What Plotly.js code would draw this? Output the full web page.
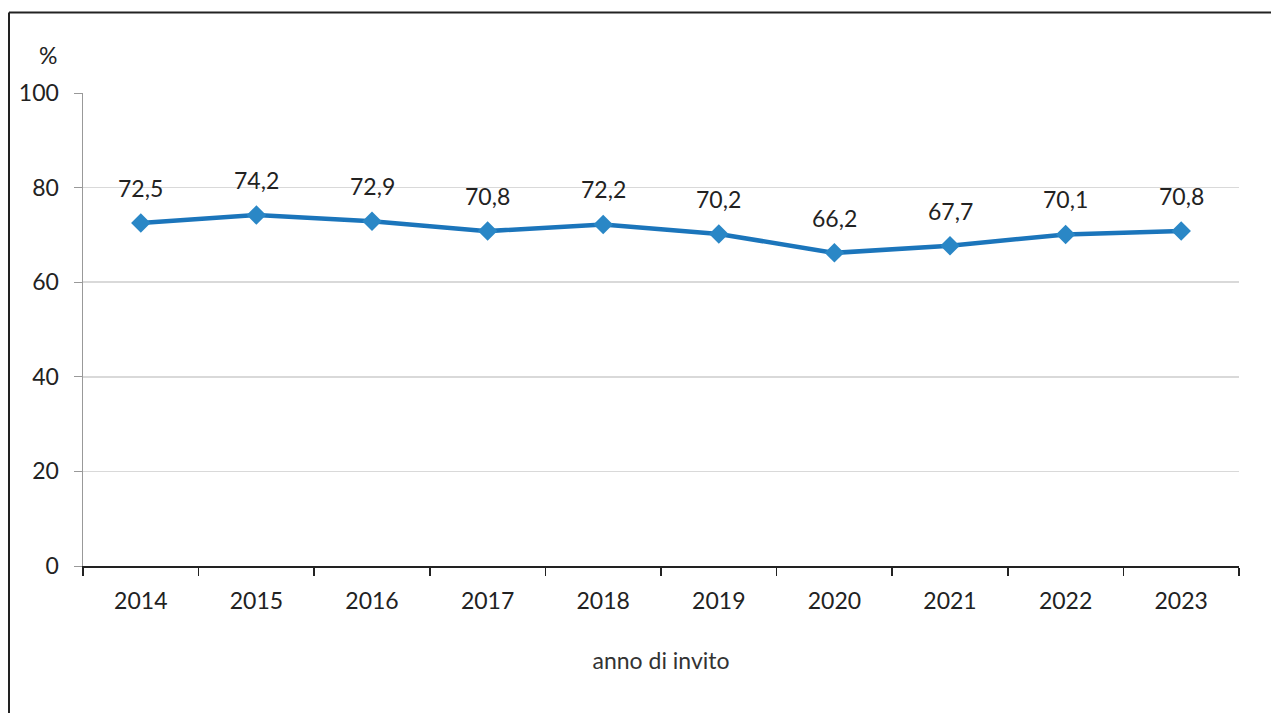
<!DOCTYPE html>
<html>
<head>
<meta charset="utf-8">
<script src="https://cdn.plot.ly/plotly-3.0.1.min.js"></script>
<style>html,body{margin:0;padding:0;background:#fff;}#chart{width:1271px;height:713px;}</style>
</head>
<body>
<div id="chart"></div>
<script>
const years = ["2014","2015","2016","2017","2018","2019","2020","2021","2022","2023"];
const values = [72.5, 74.2, 72.9, 70.8, 72.2, 70.2, 66.2, 67.7, 70.1, 70.8];
const yTicks = [0, 20, 40, 60, 80, 100];
const xTitle = "anno di invito";
const yUnit = "%";

const FONT = "Lato, 'Open Sans', sans-serif";
const W = 1271, H = 713;
const m = {l: 83, r: 32, t: 93, b: 147};
const pw = W - m.l - m.r, ph = H - m.t - m.b;
const px = x => (x - m.l) / pw;
const py = y => (H - m.b - y) / ph;

const trace = {
  x: years, y: values, type: 'scatter', mode: 'lines+markers',
  line: {color: '#1b75bb', width: 4.5},
  marker: {symbol: 'diamond', size: 15, color: '#2a87c6', line: {width: 0}},
  hoverinfo: 'skip', cliponaxis: false
};

const annotations = years.map((yr, i) => ({
  x: i, y: values[i], xref: 'x', yref: 'y',
  text: values[i].toFixed(1).replace('.', ','),
  showarrow: false, yshift: 35,
  font: {family: FONT, size: 23, color: '#222'}
}));
annotations.push({
  xref: 'paper', yref: 'paper', x: px(48), y: py(55), text: yUnit,
  showarrow: false, xanchor: 'center', yanchor: 'middle',
  font: {family: FONT, size: 23, color: '#222'}
});

const layout = {
  width: W, height: H, margin: m,
  paper_bgcolor: '#fff', plot_bgcolor: '#fff',
  showlegend: false, separators: ',.',
  font: {family: FONT, color: '#222'},
  xaxis: {
    type: 'category', range: [-0.5, years.length - 0.5], autorange: false,
    tickson: 'boundaries', ticks: 'outside', ticklen: 8, tickangle: 0,
    ticklabelstandoff: 14,
    tickcolor: '#222', tickwidth: 1.5, showline: true, linecolor: '#222', linewidth: 1.5,
    showgrid: false, zeroline: false, fixedrange: true,
    tickfont: {family: FONT, size: 23, color: '#222'},
    title: {text: xTitle, font: {family: FONT, size: 23, color: '#333'}, standoff: 40}
  },
  yaxis: {
    range: [0, 100], autorange: false, tickvals: yTicks, ticks: 'outside', ticklen: 8,
    ticklabelstandoff: 10,
    tickcolor: '#999', showline: true, linecolor: '#999', linewidth: 1.5,
    gridcolor: '#d9d9d9', gridwidth: 1.5, zeroline: false, fixedrange: true,
    tickfont: {family: FONT, size: 23, color: '#222'}
  },
  annotations: annotations,
  shapes: [
    {type: 'line', xref: 'paper', yref: 'paper', x0: px(9), x1: px(1275), y0: py(12.5), y1: py(12.5), line: {color: '#222', width: 2}},
    {type: 'line', xref: 'paper', yref: 'paper', x0: px(9), x1: px(9), y0: py(12.5), y1: py(720), line: {color: '#222', width: 2}}
  ]
};

Plotly.newPlot('chart', [trace], layout, {displayModeBar: false, staticPlot: true});
</script>
</body>
</html>
